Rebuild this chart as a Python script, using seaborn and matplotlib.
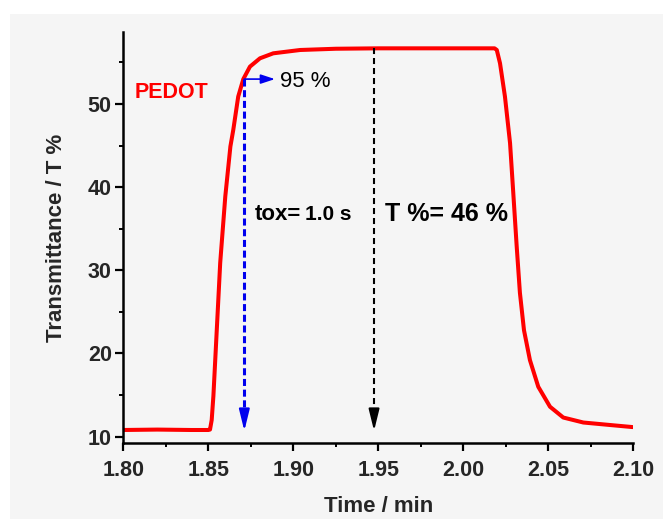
import matplotlib
matplotlib.use("Agg")
import matplotlib.pyplot as plt
from matplotlib.patches import Rectangle
from matplotlib.ticker import MultipleLocator, FormatStrFormatter
import seaborn as sns
import pandas as pd

# Transmittance response of PEDOT during one switching step
time_min = [1.800, 1.820, 1.840, 1.850, 1.851, 1.852, 1.853, 1.855, 1.857,
            1.860, 1.863, 1.8647, 1.8676, 1.8706, 1.8745, 1.8804, 1.8882,
            1.904, 1.925, 1.950, 1.985, 2.0184, 2.0197, 2.0216, 2.0245,
            2.0275, 2.0294, 2.0314, 2.0333, 2.0357, 2.0392, 2.0441, 2.051,
            2.0588, 2.0706, 2.0863, 2.0996]
transmittance = [10.8, 10.85, 10.8, 10.8, 10.85, 12.0, 14.9, 22.9, 30.9,
                 38.9, 44.9, 46.9, 50.9, 53.0, 54.5, 55.5, 56.1,
                 56.5, 56.65, 56.7, 56.7, 56.7, 56.5, 54.9, 50.9,
                 45.3, 39.3, 32.9, 27.3, 22.8, 19.2, 16.0, 13.6,
                 12.3, 11.7, 11.4, 11.15]

x_ticks = [1.80, 1.85, 1.90, 1.95, 2.00, 2.05, 2.10]
y_ticks = [10, 20, 30, 40, 50]

# Marker positions for the response-time and contrast annotations
t95_time, t95_level = 1.8712, 53.0
mid_time, plateau_level = 1.9475, 56.7
arrow_tip = 10.7

sns.set_style("ticks")
plt.rcParams["font.family"] = ["Liberation Sans", "DejaVu Sans"]
plt.rcParams["font.weight"] = "bold"

df = pd.DataFrame({"Time": time_min, "T": transmittance})

fig = plt.figure(figsize=(6.63, 5.19), dpi=100)
fig.patch.set_facecolor("white")
fig.patches.append(Rectangle((10 / 663, 0), 1, (519 - 14) / 519,
                             transform=fig.transFigure, facecolor="#f5f5f5",
                             edgecolor="none", zorder=-10))
ax = fig.add_axes([123.3 / 663, (519 - 443.3) / 519,
                   (633.3 - 123.3) / 663, (443.3 - 31.7) / 519])
ax.set_facecolor("none")

sns.lineplot(data=df, x="Time", y="T", ax=ax, color="#ff0000", lw=2.9,
             sort=False, solid_joinstyle="round", solid_capstyle="round")

ax.set_xlim(1.80, 2.10)
ax.set_ylim(9.2, 58.7)
ax.set_xticks(x_ticks)
ax.set_yticks(y_ticks)
ax.xaxis.set_major_formatter(FormatStrFormatter("%.2f"))
ax.xaxis.set_minor_locator(MultipleLocator(0.025))
ax.yaxis.set_minor_locator(MultipleLocator(5))

for side in ("top", "right"):
    ax.spines[side].set_visible(False)
for side in ("left", "bottom"):
    ax.spines[side].set_linewidth(1.8)
    ax.spines[side].set_color("black")

ax.tick_params(axis="both", which="major", direction="out", length=5.8,
               width=1.6, labelsize=15.5, color="black")
ax.tick_params(axis="both", which="minor", direction="out", length=3,
               width=1.4, color="black")
ax.tick_params(axis="x", which="major", pad=6)
ax.tick_params(axis="y", which="major", pad=2.5)
for lab in ax.get_xticklabels() + ax.get_yticklabels():
    lab.set_fontweight("bold")

ax.set_xlabel("Time / min", fontsize=16, fontweight="bold", labelpad=11)
ax.set_ylabel("Transmittance / T %", fontsize=16, fontweight="bold",
              labelpad=15)

# Blue dashed drop line at the 95 % point, with arrow head
ax.plot([t95_time, t95_time], [t95_level, arrow_tip + 2.2], color="#0000ee",
        lw=2.2, linestyle=(0, (2.3, 1.2)))
ax.annotate("", xy=(t95_time, arrow_tip), xytext=(t95_time, arrow_tip + 2.3),
            arrowprops=dict(arrowstyle="-|>,head_length=1.3,head_width=0.32",
                            color="#0000ee", lw=1.5, shrinkA=0, shrinkB=0))
ax.annotate("", xy=(1.8892, t95_level), xytext=(t95_time, t95_level),
            arrowprops=dict(arrowstyle="-|>,head_length=0.85,head_width=0.28",
                            color="#0000ee", lw=1.2, shrinkA=0, shrinkB=0))
ax.text(1.8922, 52.7, "95 %", fontsize=16, fontweight="normal",
        color="black", ha="left", va="center")

# Black dashed line marking the transmittance contrast
ax.plot([mid_time, mid_time], [plateau_level, arrow_tip + 2.2],
        color="black", lw=1.5, linestyle=(0, (2.9, 1.9)))
ax.annotate("", xy=(mid_time, arrow_tip), xytext=(mid_time, arrow_tip + 2.3),
            arrowprops=dict(arrowstyle="-|>,head_length=1.3,head_width=0.32",
                            color="black", lw=1.5, shrinkA=0, shrinkB=0))

ax.text(1.8069, 51.4, "PEDOT", fontsize=15.5, fontweight="bold",
        color="#ff0000", ha="left", va="center")
ax.text(1.8775, 36.1, "tox=", fontsize=16, fontweight="bold",
        color="black", ha="left", va="baseline")
ax.text(1.9070, 36.1, "1.0 s", fontsize=15, fontweight="bold",
        color="black", ha="left", va="baseline")
ax.text(1.9539, 35.9, "T %= 46 %", fontsize=18, fontweight="bold",
        color="black", ha="left", va="baseline")

fig.savefig("out.png", dpi=100, facecolor=fig.get_facecolor())
